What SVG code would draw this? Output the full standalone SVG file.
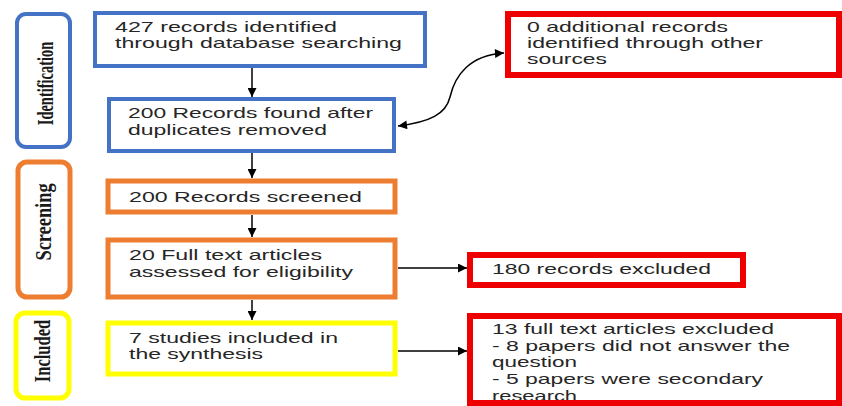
<svg xmlns="http://www.w3.org/2000/svg" width="842" height="406" viewBox="0 0 842 406">
<defs>
<marker id="ah" viewBox="0 0 10 10" refX="10" refY="5" markerWidth="10" markerHeight="9" markerUnits="userSpaceOnUse" orient="auto-start-reverse">
<path d="M0,0 L10,5 L0,10 z" fill="#000"/>
</marker>
<style>
.t{font-family:"Liberation Sans",Arial,sans-serif;font-size:15px;fill:#262626;}
.s{font-family:"Liberation Serif","Times New Roman",serif;font-size:17px;font-weight:bold;fill:#1a1a1a;text-anchor:middle;}
.b{fill:#fff;stroke:#4472C4;stroke-width:4;}
.o{fill:#fff;stroke:#ED7D31;stroke-width:5;}
.y{fill:#fff;stroke:#FFFF00;stroke-width:5;}
.r{fill:none;stroke:#EE0000;stroke-width:6;}
.c{fill:none;stroke:#000;stroke-width:1.5;}
</style>
</defs>
<rect width="842" height="406" fill="#fff"/>

<g id="phase-identification">
<rect class="b" x="17" y="14" width="53" height="133" rx="9"/>
<text class="s" transform="translate(53,83.5) scale(1.35,0.85) rotate(-90)" x="0" y="0">Identification</text>
</g>
<g id="phase-screening">
<rect class="o" x="18" y="162" width="52" height="135" rx="9"/>
<text class="s" transform="translate(51,222) scale(1.35,1.08) rotate(-90)" x="0" y="0">Screening</text>
</g>
<g id="phase-included">
<rect class="y" x="16" y="313" width="53" height="85" rx="9"/>
<text class="s" transform="translate(50,351) scale(1.35,0.97) rotate(-90)" x="0" y="0">Included</text>
</g>

<g id="n1">
<rect class="b" x="95" y="13" width="330" height="53"/>
<text class="t" x="115" y="32" textLength="222" lengthAdjust="spacingAndGlyphs">427 records identified</text>
<text class="t" x="115" y="48" textLength="287" lengthAdjust="spacingAndGlyphs">through database searching</text>
</g>
<g id="n2">
<rect class="b" x="109" y="99" width="285" height="52"/>
<text class="t" x="128" y="118" textLength="245" lengthAdjust="spacingAndGlyphs">200 Records found after</text>
<text class="t" x="128" y="135" textLength="199" lengthAdjust="spacingAndGlyphs">duplicates removed</text>
</g>
<g id="n3">
<rect class="o" x="108" y="181" width="287" height="31"/>
<text class="t" x="129" y="202" textLength="233" lengthAdjust="spacingAndGlyphs">200 Records screened</text>
</g>
<g id="n4">
<rect class="o" x="108" y="240" width="287" height="57"/>
<text class="t" x="129" y="260" textLength="193" lengthAdjust="spacingAndGlyphs">20 Full text articles</text>
<text class="t" x="129" y="277" textLength="224" lengthAdjust="spacingAndGlyphs">assessed for eligibility</text>
</g>
<g id="n5">
<rect class="y" x="108" y="323" width="287" height="51"/>
<text class="t" x="129" y="343" textLength="209" lengthAdjust="spacingAndGlyphs">7 studies included in</text>
<text class="t" x="129" y="359" textLength="134" lengthAdjust="spacingAndGlyphs">the synthesis</text>
</g>
<g id="r1">
<rect x="508" y="14" width="331" height="61" fill="#fff"/>
<text class="t" x="527" y="32" textLength="201" lengthAdjust="spacingAndGlyphs">0 additional records</text>
<text class="t" x="527" y="48" textLength="236" lengthAdjust="spacingAndGlyphs">identified through other</text>
<text class="t" x="527" y="64" textLength="80" lengthAdjust="spacingAndGlyphs">sources</text>
<rect class="r" x="508" y="14" width="331" height="61"/>
</g>
<g id="r2">
<rect x="470" y="255" width="273" height="30" fill="#fff"/>
<text class="t" x="492" y="274" textLength="219" lengthAdjust="spacingAndGlyphs">180 records excluded</text>
<rect class="r" x="470" y="255" width="273" height="30"/>
</g>
<g id="r3">
<rect x="470" y="316" width="369" height="87" fill="#fff"/>
<text class="t" x="492" y="334" textLength="282" lengthAdjust="spacingAndGlyphs">13 full text articles excluded</text>
<text class="t" x="492" y="351" textLength="298" lengthAdjust="spacingAndGlyphs">- 8 papers did not answer the</text>
<text class="t" x="492" y="367" textLength="85" lengthAdjust="spacingAndGlyphs">question</text>
<text class="t" x="492" y="384" textLength="271" lengthAdjust="spacingAndGlyphs">- 5 papers were secondary</text>
<text class="t" x="492" y="401" textLength="85" lengthAdjust="spacingAndGlyphs">research</text>
<rect class="r" x="470" y="316" width="369" height="87"/>
</g>

<g id="connectors">
<line class="c" x1="252" y1="68" x2="252" y2="97" marker-end="url(#ah)"/>
<line class="c" x1="252" y1="153" x2="252" y2="178" marker-end="url(#ah)"/>
<line class="c" x1="252" y1="215" x2="252" y2="237" marker-end="url(#ah)"/>
<line class="c" x1="252" y1="300" x2="252" y2="320" marker-end="url(#ah)"/>
<line class="c" x1="398" y1="268" x2="467" y2="268" marker-end="url(#ah)"/>
<line class="c" x1="398" y1="351" x2="467" y2="351" marker-end="url(#ah)"/>
<path class="c" d="M398,126 C430,122 446,114 450,97 C455,75 470,55 504,53" marker-start="url(#ah)" marker-end="url(#ah)"/>
</g>
</svg>
